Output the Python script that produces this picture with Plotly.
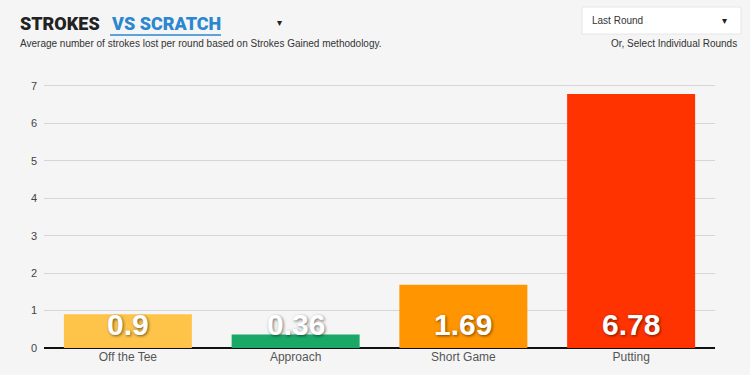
import plotly.graph_objects as go

categories = ["Off the Tee", "Approach", "Short Game", "Putting"]
values = [0.9, 0.36, 1.69, 6.78]
value_labels = ["0.9", "0.36", "1.69", "6.78"]
colors = ["#fec44a", "#1aa866", "#ff9500", "#ff3300"]
y_ticks = [0, 1, 2, 3, 4, 5, 6, 7]

W, H = 750, 375
L, R, T, B = 44, 35, 84, 27
PW = W - L - R
PH = H - T - B

def px(x):
    return (x - L) / PW

def py(y):
    return (H - B - y) / PH

fig = go.Figure()
fig.add_trace(go.Bar(
    x=categories, y=values, marker=dict(color=colors, line=dict(width=0)),
    hoverinfo="x+y", showlegend=False,
))

for c, lab in zip(categories, value_labels):
    fig.add_annotation(
        x=c, y=0.62, xref="x", yref="y", text=lab, showarrow=False,
        yanchor="middle",
        font=dict(family="Arial", size=30, color="white", weight="bold",
                  shadow="1px 1px 3px rgba(0,0,0,0.55)"),
    )

# header
fig.add_annotation(xref="paper", yref="paper", x=px(18), y=py(24), xanchor="left", yanchor="middle",
                   text="STROKES", showarrow=False,
                   font=dict(family="Roboto", size=18, color="#222222", weight=900))
fig.add_annotation(xref="paper", yref="paper", x=px(109), y=py(24), xanchor="left", yanchor="middle",
                   text="VS SCRATCH", showarrow=False,
                   font=dict(family="Roboto", size=18, color="#2a87d0", weight=900))
fig.add_shape(type="line", xref="paper", yref="paper", x0=px(110), x1=px(221), y0=py(35), y1=py(35),
              line=dict(color="#2a87d0", width=1.5))
fig.add_annotation(xref="paper", yref="paper", x=px(279), y=py(22), xanchor="center", yanchor="middle",
                   text="▾", showarrow=False, font=dict(family="Arial", size=10, color="#222222"))
fig.add_annotation(xref="paper", yref="paper", x=px(18), y=py(43), xanchor="left", yanchor="middle",
                   text="Average number of strokes lost per round based on Strokes Gained methodology.",
                   showarrow=False, font=dict(family="Arial", size=10, color="#333333"))

# dropdown box
fig.add_shape(type="rect", xref="paper", yref="paper", x0=px(582), x1=px(741), y0=py(7), y1=py(34),
              fillcolor="white", line=dict(color="#e6e6e6", width=1))
fig.add_annotation(xref="paper", yref="paper", x=px(590), y=py(20), xanchor="left", yanchor="middle",
                   text="Last Round", showarrow=False, font=dict(family="Arial", size=10, color="#333333"))
fig.add_annotation(xref="paper", yref="paper", x=px(724), y=py(20), xanchor="center", yanchor="middle",
                   text="▾", showarrow=False, font=dict(family="Arial", size=10, color="#222222"))
fig.add_annotation(xref="paper", yref="paper", x=px(739), y=py(43), xanchor="right", yanchor="middle",
                   text="Or, Select Individual Rounds", showarrow=False,
                   font=dict(family="Arial", size=10, color="#333333"))

fig.update_layout(
    width=W, height=H,
    margin=dict(l=L, r=R, t=T, b=B, pad=0),
    paper_bgcolor="#f5f5f5", plot_bgcolor="#f5f5f5",
    bargap=0.237,
    xaxis=dict(showgrid=False, tickfont=dict(family="Arial", size=12, color="#555555"),
               ticks="", showline=False, zeroline=False, fixedrange=True),
    yaxis=dict(range=[0, 7.05], tickvals=y_ticks, showgrid=True, gridcolor="#d6d6d6", gridwidth=1,
               zeroline=True, zerolinecolor="#111111", zerolinewidth=2,
               tickfont=dict(family="Arial", size=11, color="#444444"), ticks="",
               ticklabelstandoff=6, showline=False, fixedrange=True),
)

fig.write_html("out.html", config={"displayModeBar": False},
               post_script="document.body.style.margin='0';document.body.style.background='#f5f5f5';document.body.style.overflow='hidden';")
